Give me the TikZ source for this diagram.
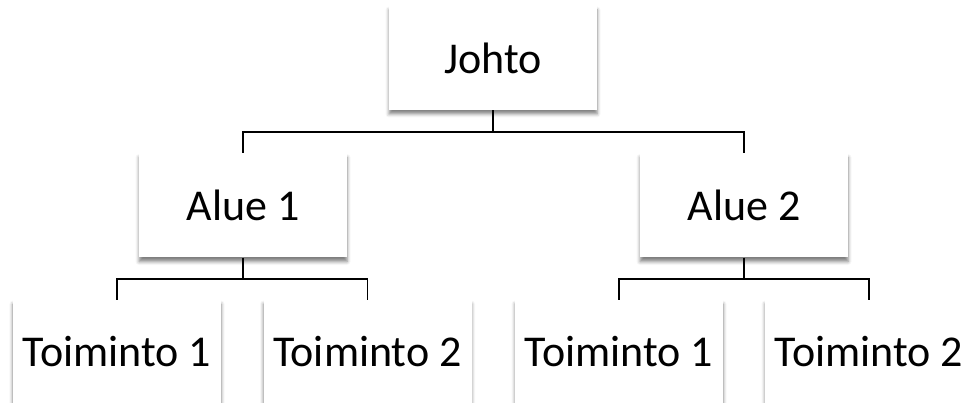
\documentclass[tikz,border=0pt]{standalone}
\usepackage{fontspec}
\setmainfont{Carlito}
\usetikzlibrary{shadows.blur}
\begin{document}
\begin{tikzpicture}[x=1pt,y=-1pt,
  box/.style={rectangle, fill=white, minimum width=208pt, minimum height=104pt,
    inner sep=0pt, font=\fontsize{44}{52}\selectfont,
    blur shadow={shadow xshift=0pt, shadow yshift=-4pt,
      shadow blur radius=3.5pt, shadow opacity=50}},
  conn/.style={line width=1.5pt, black}]
\useasboundingbox (0,0) rectangle (964,403);

% boxes
\node[box] (J)  at (493,58)    {Johto};
\node[box] (A1) at (243,205.5) {Alue 1};
\node[box] (A2) at (744,205.5) {Alue 2};
\node[box] (T1) at (117,352)   {Toiminto 1};
\node[box] (T2) at (367.5,352) {Toiminto 2};
\node[box] (T3) at (619,352)   {Toiminto 1};
\node[box] (T4) at (869,352)   {Toiminto 2};

% branch points of the forks
\coordinate (j1) at (493,132);
\coordinate (a1) at (243,279);
\coordinate (a2) at (744,279);

% connectors
\draw[conn] (J.south) -- (j1) -| (A1.north);
\draw[conn] (j1) -| (A2.north);
\draw[conn] (A1.south) -- (a1) -| (T1.north);
\draw[conn] (a1) -| (T2.north);
\draw[conn] (A2.south) -- (a2) -| (T3.north);
\draw[conn] (a2) -| (T4.north);
\end{tikzpicture}
\end{document}
